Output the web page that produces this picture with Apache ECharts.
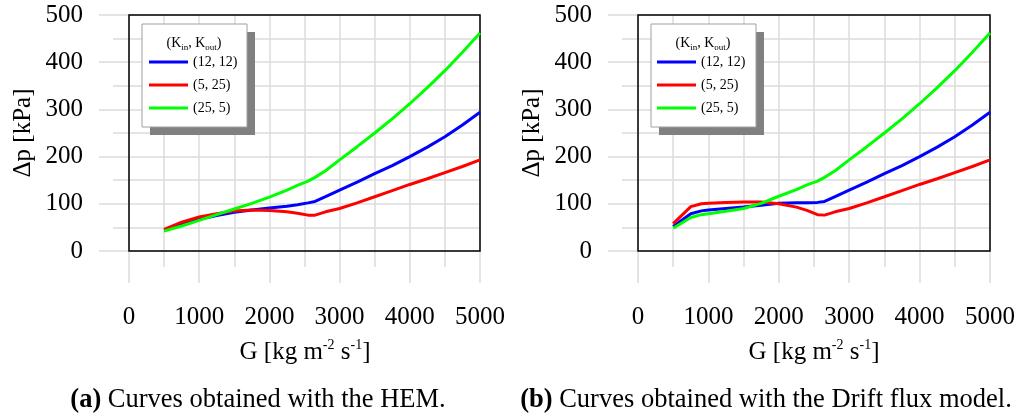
<!DOCTYPE html>
<html>
<head>
<meta charset="utf-8">
<script src="https://cdn.jsdelivr.net/npm/echarts@6/dist/echarts.min.js"></script>
<style>html,body{margin:0;padding:0;background:#fff}#c{width:1019px;height:419px}</style>
</head>
<body>
<div id="c"></div>
<script>
// ---- data ----
const seriesNames = ['(12, 12)', '(5, 25)', '(25, 5)'];
const seriesColors = ['#0000ff', '#ff0000', '#00ff00'];
const xTicks = [0, 1000, 2000, 3000, 4000, 5000];
const yTicks = [0, 100, 200, 300, 400, 500];

// (a) HEM
const G_hem = [500, 750, 1000, 1250, 1500, 1750, 2000, 2250, 2400, 2550, 2650, 2800, 3000, 3250, 3500, 3750, 4000, 4250, 4500, 4750, 5000];
const hem_12_12 = [44, 56, 67, 75, 82, 87, 91, 95, 98, 102, 105, 115, 129, 146, 164, 181, 200, 220, 242, 267, 294];
const hem_5_25  = [46, 61, 72, 79, 85, 87, 86, 83, 80, 76, 76, 83, 90, 102, 115, 128, 141, 153, 166, 179, 193];
const hem_25_5  = [42, 53, 65, 77, 89, 101, 114, 129, 139, 148, 156, 170, 193, 221, 250, 280, 312, 346, 382, 421, 462];

// (b) Drift flux
const G_df = [500, 750, 900, 1000, 1250, 1500, 1750, 2000, 2250, 2400, 2550, 2650, 2800, 3000, 3250, 3500, 3750, 4000, 4250, 4500, 4750, 5000];
const df_12_12 = [52, 79, 85, 87, 90, 93, 97, 101, 102, 102, 103, 105, 115, 129, 146, 164, 181, 200, 220, 242, 267, 294];
const df_5_25  = [58, 94, 100, 101, 103, 104, 104, 100, 93, 86, 77, 76, 83, 90, 102, 115, 128, 141, 153, 166, 179, 193];
const df_25_5  = [48, 71, 77, 79, 84, 90, 101, 116, 130, 140, 148, 156, 170, 193, 221, 250, 280, 312, 346, 382, 421, 462];

const captions = ['{b|(a)} Curves obtained with the HEM.', '{b|(b)} Curves obtained with the Drift flux model.'];

// ---- chart ----
const FONT = 'Liberation Serif';
const GRID_COLOR = '#dcdcdc';
const pair = (xs, ys) => xs.map((x, i) => [x, ys[i]]);

const grids = [
  {left: 129, top: 15, width: 351, height: 236},
  {left: 638, top: 15, width: 352, height: 236}
];

function xAxis(i) {
  return {
    gridIndex: i, type: 'value', min: xTicks[0], max: xTicks[xTicks.length - 1], interval: xTicks[1] - xTicks[0],
    axisLine: {show: false},
    axisTick: {show: true, length: 32, lineStyle: {color: GRID_COLOR, width: 1.5}},
    minorTick: {show: true, splitNumber: 2, length: 16, lineStyle: {color: GRID_COLOR, width: 1.5}},
    splitLine: {show: true, lineStyle: {color: GRID_COLOR, width: 1.5}},
    minorSplitLine: {show: true, lineStyle: {color: GRID_COLOR, width: 1.5}},
    axisLabel: {margin: 54, fontFamily: FONT, fontSize: 25, color: '#000', formatter: v => String(v)}
  };
}
function yAxis(i) {
  return {
    gridIndex: i, type: 'value', min: yTicks[0], max: yTicks[yTicks.length - 1], interval: yTicks[1] - yTicks[0],
    axisLine: {show: false},
    axisTick: {show: true, length: 30, lineStyle: {color: GRID_COLOR, width: 1.5}},
    minorTick: {show: true, splitNumber: 2, length: 16, lineStyle: {color: GRID_COLOR, width: 1.5}},
    splitLine: {show: true, lineStyle: {color: GRID_COLOR, width: 1.5}},
    minorSplitLine: {show: true, lineStyle: {color: GRID_COLOR, width: 1.5}},
    axisLabel: {margin: 46, fontFamily: FONT, fontSize: 25, color: '#000', formatter: v => String(v)}
  };
}

const data = [
  [pair(G_hem, hem_12_12), pair(G_hem, hem_5_25), pair(G_hem, hem_25_5)],
  [pair(G_df, df_12_12), pair(G_df, df_5_25), pair(G_df, df_25_5)]
];

const series = [];
data.forEach((set, gi) => {
  set.forEach((d, si) => {
    series.push({
      type: 'line', name: seriesNames[si], xAxisIndex: gi, yAxisIndex: gi,
      data: d, showSymbol: false, symbol: 'none', smooth: false,
      color: seriesColors[si],
      lineStyle: {color: seriesColors[si], width: 3}, z: 3
    });
  });
});

function legendCfg(left) {
  return {
    orient: 'vertical', left: left, top: 54, padding: 0, itemGap: 7,
    itemWidth: 39, itemHeight: 3, icon: 'rect', z: 20,
    data: seriesNames,
    textStyle: {fontFamily: FONT, fontSize: 14, lineHeight: 16, color: '#000'}
  };
}

function legendBox(x, y) {
  return [
    {type: 'rect', z: 15, shape: {x: x + 8, y: y + 8, width: 105, height: 103}, style: {fill: '#808080'}},
    {type: 'rect', z: 16, shape: {x: x, y: y, width: 105, height: 103}, style: {fill: '#fff', stroke: '#a0a0a0', lineWidth: 1}},
    {type: 'text', z: 17, x: x + 52, y: y + 19, style: {
      text: '(K{sub|in}, K{sub|out})', align: 'center', verticalAlign: 'middle',
      fontFamily: FONT, fontSize: 14, fill: '#000', lineHeight: 18,
      rich: {sub: {fontSize: 9, fontFamily: FONT, verticalAlign: 'bottom', lineHeight: 12}}
    }}
  ];
}

const richX = {sup: {fontSize: 14, fontFamily: FONT, verticalAlign: 'top', lineHeight: 26}};
function textEl(x, y, text, rot, rich, size) {
  return {type: 'text', x: x, y: y, rotation: rot || 0, z: 10, style: {
    text: text, align: 'center', verticalAlign: 'middle', fontFamily: FONT, fontSize: size || 25, fill: '#000', lineHeight: 28,
    rich: rich || {}
  }};
}
const richCap = {b: {fontWeight: 'bold', fontFamily: FONT, fontSize: 26.5}};

const chart = echarts.init(document.getElementById('c'), null, {renderer: 'canvas'});
chart.setOption({
  animation: false,
  backgroundColor: '#fff',
  grid: grids.map(g => Object.assign({show: true, borderColor: '#000', borderWidth: 1.5, backgroundColor: 'transparent', z: 1}, g)),
  xAxis: [xAxis(0), xAxis(1)],
  yAxis: [yAxis(0), yAxis(1)],
  legend: [legendCfg(149), legendCfg(657)],
  series: series,
  graphic: [].concat(
    legendBox(142, 24),
    legendBox(651, 24),
    [
      textEl(23, 133, 'Δp [kPa]', Math.PI / 2),
      textEl(532, 133, 'Δp [kPa]', Math.PI / 2),
      textEl(305, 352, 'G [kg m{sup|-2} s{sup|-1}]', 0, richX),
      textEl(814, 352, 'G [kg m{sup|-2} s{sup|-1}]', 0, richX),
      textEl(258, 400, captions[0], 0, richCap, 26.5),
      textEl(766, 400, captions[1], 0, richCap, 26.5)
    ]
  )
});
</script>
</body>
</html>
